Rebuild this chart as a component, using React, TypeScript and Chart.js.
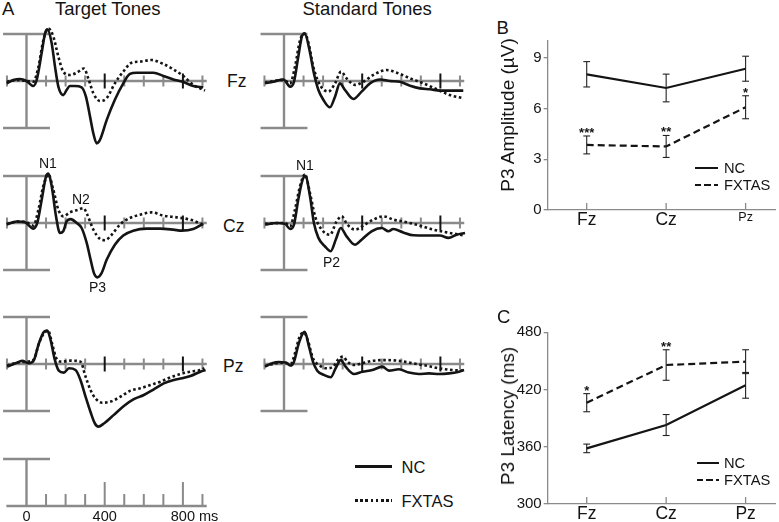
import React, { useEffect, useRef } from "react";
import { Chart, registerables } from "chart.js";
Chart.register(...registerables);

const FONT = '"Liberation Sans", Arial, Helvetica, sans-serif';
const INK = "#141414";
const AXIS_GRAY = "#8a8a8a";

// ---------- Panel A: ERP waveforms (time in ms, amplitude in µV, negative plotted up) ----------
const tTgtFzNC = [-101, -67, -33, 0, 35, 52, 77, 95, 107, 129, 146, 163, 188, 205, 222, 248, 282, 304, 325, 342, 359, 376, 410, 452, 495, 529, 564, 649, 700, 751, 799, 853, 904];
const vTgtFzNC = [0.3, -0.13, -0.25, 0, 0.64, -0.13, -3.5, -6.1, -6.6, -4.8, -1.8, 0.72, 1.8, 1.15, 0.64, 0.64, 0.8, 2.0, 4.55, 6.7, 7.96, 7.5, 5.0, 2.4, 0.3, -0.9, -1.06, -1.06, -0.64, -0.2, 0.1, 0.64, 0.8];
const tTgtFzFX = [-101, -50, 0, 35, 61, 86, 112, 137, 163, 188, 222, 257, 294, 316, 342, 376, 410, 452, 495, 538, 580, 640, 700, 751, 802, 853, 913];
const vTgtFzFX = [0.1, -0.13, 0, 0.1, -1.8, -5.2, -6.7, -5.7, -3.1, -1.2, -0.77, -1.06, -1.6, -0.34, 1.57, 2.55, 2.2, 0.3, -1.2, -2.34, -2.47, -2.68, -2.17, -1.49, -0.64, 0.5, 1.23];

const tStdFzNC = [-97, -55, -3, 31, 51, 73, 95, 107, 130, 153, 176, 201, 235, 261, 286, 312, 355, 397, 440, 491, 542, 593, 645, 696, 747, 798, 849, 917];
const vStdFzNC = [0.3, 0.1, -0.2, 0.72, 0.1, -3.1, -5.9, -6.0, -4.0, -1.0, 1.15, 2.4, 3.36, 2.0, 0.3, 1.15, 2.3, 1.36, 0.3, -0.2, 0, 0.1, 0.6, 0.94, 1.06, 1.23, 1.23, 1.23];
const tStdFzFX = [-97, -3, 31, 56, 82, 104, 124, 150, 184, 227, 261, 292, 320, 363, 406, 457, 525, 576, 645, 713, 781, 849, 917];
const vStdFzFX = [0.2, -0.13, 0.3, -1.8, -5.2, -6.1, -5.0, -1.8, 0.5, 1.36, 0.3, -1.2, -0.34, 0.5, 0.1, -0.77, -1.4, -1.06, -0.34, 0.3, 1.06, 1.8, 2.2];

const tTgtCzNC = [-101, -50, -8, 35, 55, 78, 100, 112, 129, 151, 171, 188, 205, 226, 257, 282, 308, 328, 345, 362, 384, 410, 452, 495, 546, 615, 683, 751, 794, 853, 904];
const vTgtCzNC = [0.2, -0.2, -0.1, 0.72, 0, -3.0, -5.96, -6.3, -4.7, -0.85, 1.28, 1.06, -0.2, -0.5, 0, 0.64, 2.55, 4.7, 6.4, 6.94, 6.4, 4.7, 2.77, 1.6, 0.98, 0.72, 0.72, 0.85, 0.98, 0.77, 0.1];
const tTgtCzFX = [-101, -33, 0, 35, 61, 86, 112, 137, 163, 188, 222, 265, 291, 311, 342, 376, 401, 436, 478, 529, 580, 640, 700, 768, 836, 904];
const vTgtCzFX = [0.1, -0.2, -0.1, 0.34, -1.7, -4.7, -6.2, -4.26, -1.7, -0.85, -1.36, -1.7, -1.9, -1.06, 0.85, 2.04, 2.2, 1.5, 0.2, -0.64, -1.06, -1.36, -0.94, -0.72, -0.43, 0.2];

const tStdCzNC = [-97, -37, 5, 31, 51, 73, 95, 109, 133, 153, 176, 210, 239, 266, 290, 320, 363, 397, 448, 500, 534, 559, 610, 662, 730, 798, 841, 883, 926];
const vStdCzNC = [0.2, 0, 0.1, 0.77, 0.2, -3.0, -5.5, -6.0, -3.4, 0, 1.9, 3.0, 3.6, 2.04, 0.64, 1.7, 2.77, 2.13, 1.06, 0.64, 1.06, 0.77, 1.2, 1.57, 1.6, 1.6, 1.9, 1.5, 1.28];
const tStdCzFX = [-97, 5, 31, 56, 82, 107, 133, 159, 193, 235, 269, 295, 324, 363, 414, 457, 508, 559, 627, 696, 764, 832, 926];
const vStdCzFX = [0.1, 0, 0.43, -1.7, -4.7, -6.2, -3.8, -0.85, 0.85, 1.5, -0.2, -0.85, 0.2, 0.85, 0.2, -0.43, -0.85, -0.43, -0.1, 0.34, 0.85, 1.2, 1.6];

const tTgtPzNC = [-99, -56, -22, 12, 38, 63, 89, 106, 123, 143, 165, 191, 217, 251, 276, 302, 327, 350, 367, 396, 447, 498, 549, 600, 651, 702, 754, 796, 839, 890, 916];
const vTgtPzNC = [0.34, -0.1, -0.4, -0.1, -0.5, -2.6, -4.1, -4.26, -3.1, -0.72, 0.85, 1.1, 0.55, 0.77, 2.04, 4.17, 6.1, 7.6, 8.0, 7.6, 6.5, 5.36, 4.5, 3.96, 3.23, 2.47, 2.04, 1.83, 1.53, 0.98, 0.77];
const tTgtPzFX = [-99, -48, 3, 38, 63, 89, 111, 131, 153, 182, 225, 276, 302, 327, 353, 387, 430, 481, 532, 583, 634, 685, 736, 787, 839, 890, 910];
const vTgtPzFX = [0.2, -0.17, -0.3, -0.6, -2.6, -3.9, -4.26, -2.6, -0.72, -0.3, -0.43, -0.3, 1.6, 3.3, 4.4, 4.94, 4.8, 4.17, 3.4, 3.1, 2.68, 2.26, 1.7, 1.28, 0.98, 0.77, 0.55];

const tStdPzNC = [-97, -60, -26, 9, 34, 51, 73, 94, 106, 128, 148, 170, 205, 239, 264, 290, 315, 358, 401, 452, 503, 537, 588, 639, 690, 742, 793, 844, 895, 921];
const vStdPzNC = [0.34, -0.1, -0.25, -0.2, 0.2, -0.3, -2.4, -3.8, -4.1, -2.2, -0.3, 0.85, 1.4, 1.7, 0.55, -0.5, 0.34, 1.28, 0.98, 0.77, 0.34, 0.85, 0.68, 1.1, 1.28, 1.2, 1.28, 1.2, 0.98, 0.77];
const tStdPzFX = [-97, -9, 34, 56, 80, 102, 124, 148, 179, 217, 251, 278, 302, 324, 358, 401, 452, 520, 588, 656, 725, 793, 861, 921];
const vStdPzFX = [0.25, -0.17, 0, -1.36, -3.5, -4.0, -2.85, -0.72, 0.13, 0.55, 0.34, -0.6, -0.94, -0.3, 0.13, -0.1, -0.4, -0.5, -0.4, -0.1, 0.2, 0.55, 0.77, 0.85];

// time axis / scale bar
const minorTickTimes = [100, 200, 300, 500, 600, 700, 900];
const panelExtraTicks = [-100];
const majorTickTimes = [400, 800];
const scaleLabelTimes = [0, 400, 800];
const timeUnit = "ms";
const scaleBarUV = 6;

// ---------- Panels B and C ----------
const categories = ["Fz", "Cz", "Pz"];
const ampNC = [8.03, 7.22, 8.36];
const ampNCErr = [0.75, 0.82, 0.74];
const ampFX = [3.85, 3.76, 6.08];
const ampFXErr = [0.53, 0.65, 0.68];
const ampStars = ["***", "**", "*"];
const ampTicks = [0, 3, 6, 9];

const latNC = [358.3, 382.8, 424.4];
const latNCErr = [4.5, 11, 13.5];
const latFX = [406.2, 445.7, 449.2];
const latFXErr = [9.5, 16, 12.5];
const latStars = ["*", "**", ""];
const latTicks = [300, 360, 420, 480];

// ---------- helpers ----------
const pts = (xs: number[], ys: number[]) => xs.map((x, i) => ({ x, y: ys[i] }));
const catIdx = categories.map((_, i) => i);

function seg(ctx: CanvasRenderingContext2D, x1: number, y1: number, x2: number, y2: number) {
  ctx.beginPath();
  ctx.moveTo(x1, y1);
  ctx.lineTo(x2, y2);
  ctx.stroke();
}

const erpFrame = {
  id: "erpFrame",
  beforeDatasetsDraw(chart: any, _a: any, o: any) {
    const ctx = chart.ctx as CanvasRenderingContext2D;
    const X = (t: number) => chart.scales.x.getPixelForValue(t);
    const Y = (v: number) => chart.scales.y.getPixelForValue(v);
    const y0 = Y(0);
    const isScale = o.mode === "scale";
    ctx.save();
    ctx.strokeStyle = AXIS_GRAY;
    ctx.lineWidth = 2.4;
    seg(ctx, X(o.lineStart), y0, X(o.lineEnd), y0);
    const yTop = Y(-o.bar);
    const yBot = isScale ? y0 : Y(o.bar);
    seg(ctx, X(0), yTop, X(0), yBot);
    seg(ctx, X(-o.barHalf), yTop, X(o.barHalf), yTop);
    if (!isScale) seg(ctx, X(-o.barHalf), yBot, X(o.barHalf), yBot);
    ctx.lineWidth = 2;
    const minor = isScale ? o.minor : o.minor.concat(o.extra);
    for (const t of minor) {
      const x = X(t);
      if (isScale) seg(ctx, x, y0, x, y0 - 12);
      else seg(ctx, x, y0 - 5.5, x, y0 + 5.5);
    }
    if (isScale) {
      for (const t of o.major) seg(ctx, X(t), y0, X(t), y0 - 24);
      ctx.fillStyle = INK;
      ctx.font = `14.5px ${FONT}`;
      ctx.textBaseline = "middle";
      ctx.textAlign = "left";
      o.labels.forEach((t: number, i: number) => {
        const num = String(t);
        const w = ctx.measureText(num).width;
        const txt = i === o.labels.length - 1 ? `${num} ${o.unit}` : num;
        ctx.fillText(txt, X(t) - w / 2, y0 + 11);
      });
    }
    ctx.restore();
  },
  afterDatasetsDraw(chart: any, _a: any, o: any) {
    if (o.mode === "scale") return;
    const ctx = chart.ctx as CanvasRenderingContext2D;
    const y0 = chart.scales.y.getPixelForValue(0);
    ctx.save();
    ctx.strokeStyle = INK;
    ctx.lineWidth = 2;
    for (const t of o.major) {
      const x = chart.scales.x.getPixelForValue(t);
      seg(ctx, x, y0 - 7.5, x, y0 + 7.5);
    }
    ctx.restore();
  },
};

const PX_PER_MS = 0.1955;
const COL_W = 215;
const SCALE_W = 240;
const ROW_H = 135;
const V_MIN = -8.3;
const V_MAX = 8.94;

function erpConfig(tNC: number[], vNC: number[], tFX: number[], vFX: number[], zeroOffset: number): any {
  const xMin = -zeroOffset / PX_PER_MS;
  const xMax = xMin + COL_W / PX_PER_MS;
  return {
    type: "line",
    data: {
      datasets: [
        { label: "NC", data: pts(tNC, vNC), borderColor: INK, borderWidth: 2.6, pointRadius: 0, fill: false, cubicInterpolationMode: "monotone" },
        { label: "FXTAS", data: pts(tFX, vFX), borderColor: INK, borderWidth: 2.6, borderDash: [2.6, 2.6], pointRadius: 0, fill: false, cubicInterpolationMode: "monotone" },
      ],
    },
    options: {
      animation: false,
      responsive: false,
      devicePixelRatio: 1,
      events: [],
      layout: { padding: 0 },
      plugins: {
        legend: { display: false },
        tooltip: { enabled: false },
        erpFrame: { mode: "panel", lineStart: -103, lineEnd: 922, bar: scaleBarUV, barHalf: 120, minor: minorTickTimes, extra: panelExtraTicks, major: majorTickTimes },
      },
      scales: {
        x: { type: "linear", display: false, min: xMin, max: xMax },
        y: { type: "linear", display: false, min: V_MIN, max: V_MAX, reverse: true },
      },
    },
    plugins: [erpFrame],
  };
}

function scaleConfig(): any {
  const xMin = -26.5 / PX_PER_MS;
  return {
    type: "line",
    data: { datasets: [] },
    options: {
      animation: false,
      responsive: false,
      devicePixelRatio: 1,
      events: [],
      layout: { padding: 0 },
      plugins: {
        legend: { display: false },
        tooltip: { enabled: false },
        erpFrame: { mode: "scale", lineStart: -103, lineEnd: 922, bar: scaleBarUV, barHalf: 120, minor: minorTickTimes, major: majorTickTimes, labels: scaleLabelTimes, unit: timeUnit },
      },
      scales: {
        x: { type: "linear", display: false, min: xMin, max: xMin + SCALE_W / PX_PER_MS },
        y: { type: "linear", display: false, min: -8.43, max: 2.04, reverse: true },
      },
    },
    plugins: [erpFrame],
  };
}

const statMarks = {
  id: "statMarks",
  afterDatasetsDraw(chart: any, _a: any, o: any) {
    const ctx = chart.ctx as CanvasRenderingContext2D;
    const xs = chart.scales.x;
    const ys = chart.scales.y;
    ctx.save();
    ctx.strokeStyle = AXIS_GRAY;
    ctx.lineWidth = 1.3;
    const yb = chart.chartArea.bottom;
    o.tickValues.forEach((v: number) => {
      const x = xs.getPixelForValue(v);
      seg(ctx, x, yb, x, yb - 7);
    });
    chart.data.datasets.forEach((ds: any, i: number) => {
      const meta = chart.getDatasetMeta(i);
      ds.data.forEach((p: any, j: number) => {
        const x = meta.data[j].x;
        const e = ds.errors[j];
        const yt = ys.getPixelForValue(p.y + e);
        const ybot = ys.getPixelForValue(p.y - e);
        ctx.strokeStyle = "#222";
        ctx.lineWidth = 1.1;
        seg(ctx, x, yt, x, ybot);
        seg(ctx, x - 3.4, yt, x + 3.4, yt);
        seg(ctx, x - 3.4, ybot, x + 3.4, ybot);
        const s = ds.stars ? ds.stars[j] : "";
        if (s) {
          ctx.font = `bold 13px ${FONT}`;
          ctx.textAlign = "center";
          ctx.textBaseline = "alphabetic";
          ctx.fillStyle = INK;
          ctx.fillText(s, x, yt + 1);
        }
      });
    });
    ctx.restore();
  },
};

function statConfig(p: any): any {
  return {
    type: "line",
    data: {
      datasets: [
        { label: "NC", data: pts(catIdx, p.nc), errors: p.ncErr, borderColor: INK, borderWidth: 2.2, pointRadius: 0, fill: false, tension: 0 },
        { label: "FXTAS", data: pts(catIdx, p.fx), errors: p.fxErr, stars: p.stars, borderColor: INK, borderWidth: 2.2, borderDash: [7, 4], pointRadius: 0, fill: false, tension: 0 },
      ],
    },
    options: {
      animation: false,
      responsive: false,
      devicePixelRatio: 1,
      events: [],
      layout: { padding: { top: p.padTop, right: 4, left: 0, bottom: 0 } },
      plugins: { legend: { display: false }, tooltip: { enabled: false }, statMarks: { tickValues: catIdx } },
      scales: {
        x: {
          type: "linear",
          min: -0.491,
          max: 2.37,
          border: { display: true, color: AXIS_GRAY, width: 1.3 },
          grid: { display: false, drawTicks: false },
          afterBuildTicks: (s: any) => {
            s.ticks = catIdx.map((v) => ({ value: v }));
          },
          ticks: {
            padding: 0,
            color: INK,
            maxRotation: 0,
            autoSkip: false,
            font: (c: any) => ({ family: FONT, size: p.xFont[c.index] ?? 17 }),
            callback: (v: any) => categories[v],
          },
          afterFit: (s: any) => {
            s.height = p.xH;
          },
        },
        y: {
          type: "linear",
          min: p.yTicks[0],
          max: p.yMax,
          afterBuildTicks: (s: any) => {
            s.ticks = p.yTicks.map((v: number) => ({ value: v }));
          },
          ticks: { padding: 2, color: INK, font: { family: FONT, size: 15 } },
          grid: { drawOnChartArea: false, drawTicks: true, tickLength: 4, color: AXIS_GRAY, lineWidth: 1.3 },
          border: { display: true, color: AXIS_GRAY, width: 1.3 },
          title: { display: false },
          afterFit: (s: any) => {
            s.width = 53.7;
          },
        },
      },
    },
    plugins: [statMarks],
  };
}

function ChartBox({ left, top, width, height, make }: { left: number; top: number; width: number; height: number; make: () => any }) {
  const ref = useRef<HTMLCanvasElement>(null);
  useEffect(() => {
    const chart = new Chart(ref.current as HTMLCanvasElement, make());
    return () => chart.destroy();
  }, []);
  return <canvas ref={ref} width={width} height={height} style={{ position: "absolute", left, top, width, height }} />;
}

function Txt({ x, y, size, children }: { x: number; y: number; size: number; children: React.ReactNode }) {
  return (
    <div style={{ position: "absolute", left: x, top: y, fontSize: size, fontFamily: FONT, color: INK, lineHeight: "normal", transform: "translateY(-50%)", whiteSpace: "nowrap" }}>
      {children}
    </div>
  );
}

function VTxt({ cx, cy, size, children }: { cx: number; cy: number; size: number; children: React.ReactNode }) {
  return (
    <div style={{ position: "absolute", left: cx, top: cy, fontSize: size, fontFamily: FONT, color: INK, lineHeight: "normal", transform: "translate(-50%, -50%) rotate(-90deg)", whiteSpace: "nowrap" }}>
      {children}
    </div>
  );
}

function LegendLine({ x, y, w, dash, thick }: { x: number; y: number; w: number; dash: string | null; thick: number }) {
  const bg = dash ? `repeating-linear-gradient(to right, ${INK} 0 ${dash.split(",")[0]}px, transparent ${dash.split(",")[0]}px ${dash.split(",")[1]}px)` : INK;
  return <div style={{ position: "absolute", left: x, top: y - thick / 2, width: w, height: thick, background: bg }} />;
}

const TGT_ZERO = 26.5;
const STD_LEFT = 258;
const STD_ZERO = 26;
const rowTops = [16, 158.3, 299];

export default function App() {
  return (
    <div style={{ position: "absolute", left: 0, top: 0, width: 779, height: 522, background: "#fff", overflow: "hidden" }}>
      {/* Panel A */}
      <Txt x={2} y={8.5} size={18.5}>A</Txt>
      <Txt x={55} y={8.5} size={18.5}>Target Tones</Txt>
      <Txt x={302.5} y={8.5} size={18.5}>Standard Tones</Txt>

      <ChartBox left={0} top={rowTops[0]} width={COL_W} height={ROW_H} make={() => erpConfig(tTgtFzNC, vTgtFzNC, tTgtFzFX, vTgtFzFX, TGT_ZERO)} />
      <ChartBox left={STD_LEFT} top={rowTops[0]} width={COL_W} height={ROW_H} make={() => erpConfig(tStdFzNC, vStdFzNC, tStdFzFX, vStdFzFX, STD_ZERO)} />
      <ChartBox left={0} top={rowTops[1]} width={COL_W} height={ROW_H} make={() => erpConfig(tTgtCzNC, vTgtCzNC, tTgtCzFX, vTgtCzFX, TGT_ZERO)} />
      <ChartBox left={STD_LEFT} top={rowTops[1]} width={COL_W} height={ROW_H} make={() => erpConfig(tStdCzNC, vStdCzNC, tStdCzFX, vStdCzFX, STD_ZERO)} />
      <ChartBox left={0} top={rowTops[2]} width={COL_W} height={ROW_H} make={() => erpConfig(tTgtPzNC, vTgtPzNC, tTgtPzFX, vTgtPzFX, TGT_ZERO)} />
      <ChartBox left={STD_LEFT} top={rowTops[2]} width={COL_W} height={ROW_H} make={() => erpConfig(tStdPzNC, vStdPzNC, tStdPzFX, vStdPzFX, STD_ZERO)} />
      <ChartBox left={0} top={440} width={SCALE_W} height={82} make={scaleConfig} />

      <Txt x={227} y={81} size={17.5}>Fz</Txt>
      <Txt x={223} y={225.5} size={17.5}>Cz</Txt>
      <Txt x={223} y={366} size={17.5}>Pz</Txt>

      <Txt x={39} y={163} size={14}>N1</Txt>
      <Txt x={72} y={199} size={14}>N2</Txt>
      <Txt x={89} y={286.5} size={14}>P3</Txt>
      <Txt x={296} y={164.5} size={14}>N1</Txt>
      <Txt x={323} y={261.5} size={14}>P2</Txt>

      <LegendLine x={355} y={466.7} w={37} dash={null} thick={2.7} />
      <LegendLine x={355} y={500.7} w={37} dash={"2.6,5.2"} thick={2.7} />
      <Txt x={401.5} y={466.7} size={16.5}>NC</Txt>
      <Txt x={401.5} y={501} size={16.5}>FXTAS</Txt>

      {/* Panel B */}
      <Txt x={496.5} y={27.5} size={18.5}>B</Txt>
      <ChartBox
        left={494}
        top={30}
        width={285}
        height={215}
        make={() => statConfig({ nc: ampNC, ncErr: ampNCErr, fx: ampFX, fxErr: ampFXErr, stars: ampStars, yTicks: ampTicks, yMax: 10, padTop: 8.3, xH: 35, xFont: [17.5, 17.5, 12.5] })}
      />
      <VTxt cx={508} cy={115} size={19}>P3 Amplitude (µV)</VTxt>
      <LegendLine x={695} y={168.3} w={23} dash={null} thick={2.2} />
      <LegendLine x={695} y={185} w={23} dash={"6,9.5"} thick={2.2} />
      <Txt x={724} y={168.3} size={14.7}>NC</Txt>
      <Txt x={724} y={185} size={14.7}>FXTAS</Txt>

      {/* Panel C */}
      <Txt x={497} y={316.5} size={18.5}>C</Txt>
      <ChartBox
        left={494}
        top={320}
        width={285}
        height={202}
        make={() => statConfig({ nc: latNC, ncErr: latNCErr, fx: latFX, fxErr: latFXErr, stars: latStars, yTicks: latTicks, yMax: 480, padTop: 12.3, xH: 18, xFont: [17.5, 17.5, 17.5] })}
      />
      <VTxt cx={507.5} cy={416} size={19}>P3 Latency (ms)</VTxt>
      <LegendLine x={697} y={462.7} w={22} dash={null} thick={2.2} />
      <LegendLine x={697} y={480} w={22} dash={"6,9.5"} thick={2.2} />
      <Txt x={724} y={462.7} size={14.7}>NC</Txt>
      <Txt x={724} y={480} size={14.7}>FXTAS</Txt>
    </div>
  );
}
